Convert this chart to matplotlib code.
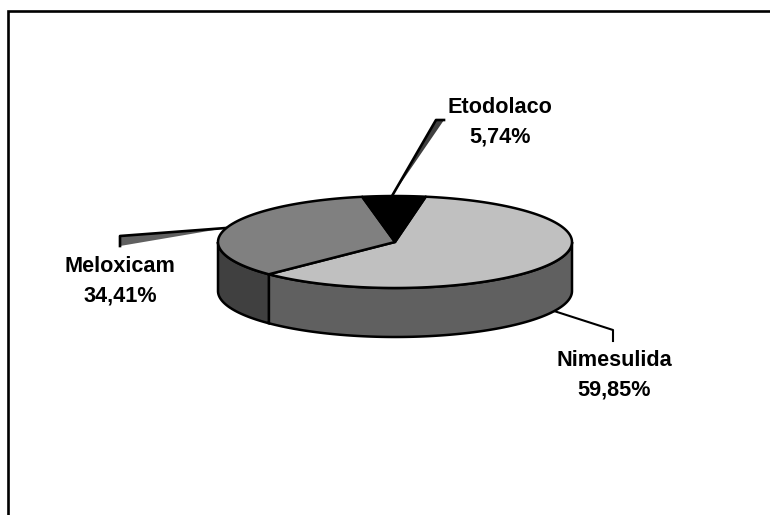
import numpy as np
import matplotlib
matplotlib.use("Agg")
import matplotlib.pyplot as plt
from matplotlib.patches import Polygon

labels = ["Nimesulida", "Meloxicam", "Etodolaco"]
shares = [59.85, 34.41, 5.74]
share_text = ["59,85%", "34,41%", "5,74%"]
top_colors = ["#C0C0C0", "#808080", "#000000"]
side_colors = ["#606060", "#404040", "#000000"]
label_xy = [(614, 375), (120, 281), (500, 122)]

CX, CY, RX, RY, DEPTH = 395, 242, 177, 46, 49
START_ANGLE = 80.0

fig = plt.figure(figsize=(7.70, 5.15), dpi=100)
ax = fig.add_axes([0, 0, 1, 1])
ax.set_xlim(0, 770)
ax.set_ylim(515, 0)
ax.axis("off")

# Outer frame: left and top edges only, running off the canvas
ax.plot([7.5, 7.5, 771], [516, 11, 11], color="black", lw=1.9, clip_on=False,
        solid_joinstyle="miter")


def rim(t0, t1, n=120):
    t = np.radians(np.linspace(t0, t1, n))
    return CX + RX * np.cos(t), CY - RY * np.sin(t)


# Leader lines run behind the disc; the wedge under each has no outline of its own
ax.add_patch(Polygon([(392, 196), (436, 120), (444, 120)], closed=True,
                     fc="#404040", ec="none", zorder=1))
ax.plot([392, 436, 444], [196, 120, 120], color="black", lw=1.9, zorder=1)
ax.add_patch(Polygon([(226, 228), (120, 236), (120, 246)], closed=True,
                     fc="#606060", ec="none", zorder=1))
ax.plot([226, 120, 120], [228, 236, 246], color="black", lw=1.9, zorder=1)
ax.plot([554, 613, 613], [311, 330, 341], color="black", lw=1.5, zorder=1)

# Slice boundaries, clockwise from the start angle
sweeps = np.array(shares) / sum(shares) * 360.0
ends = START_ANGLE - np.cumsum(sweeps)
starts = ends + sweeps

# Side wall: only the rim portion facing the viewer is visible
for s, e, color in zip(starts, ends, side_colors):
    a, b = max(e, -180), min(s, 0)
    if b > a:
        x, y = rim(b, a)
        ax.add_patch(Polygon(np.r_[np.c_[x, y], np.c_[x[::-1], y[::-1] + DEPTH]],
                             closed=True, fc=color, ec="black", lw=1.8, zorder=2))

# Top face
for s, e, color in zip(starts, ends, top_colors):
    x, y = rim(s, e)
    ax.add_patch(Polygon(np.r_[[[CX, CY]], np.c_[x, y]], closed=True,
                         fc=color, ec="black", lw=1.8, joinstyle="round", zorder=3))

for (lx, ly), name, pct in zip(label_xy, labels, share_text):
    ax.text(lx, ly, f"{name}\n{pct}", ha="center", va="center", family="Liberation Sans",
            fontweight="bold", fontsize=15.6, color="black", linespacing=1.55, zorder=4)

fig.savefig("out.png", dpi=100, facecolor="white")
